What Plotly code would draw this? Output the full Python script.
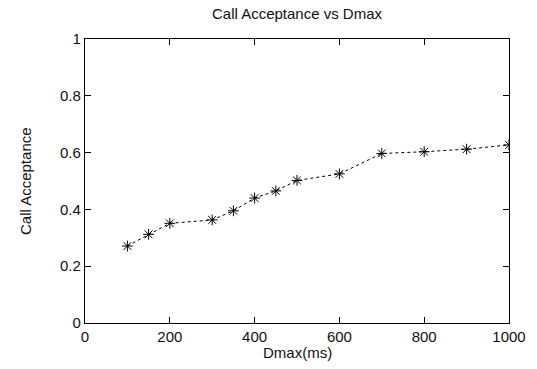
import plotly.graph_objects as go

dmax_ms = [100, 150, 200, 300, 350, 400, 450, 500, 600, 700, 800, 900, 1000]
call_acceptance = [0.271, 0.312, 0.351, 0.363, 0.395, 0.440, 0.465, 0.502, 0.525, 0.597, 0.603, 0.612, 0.627]
x_ticks = [0, 200, 400, 600, 800, 1000]
y_ticks = [0, 0.2, 0.4, 0.6, 0.8, 1]
y_tick_labels = ["0", "0.2", "0.4", "0.6", "0.8", "1"]

W, H = 537, 369
L, R, T, B = 85, 28, 39, 46
FONT = "Liberation Sans, Arial, Helvetica, sans-serif"
FS = 15

fig = go.Figure()
fig.add_trace(go.Scatter(
    x=dmax_ms, y=call_acceptance, mode="lines+markers",
    line=dict(color="black", width=1, dash="dot"),
    marker=dict(symbol="asterisk-open", size=9, color="black",
                line=dict(color="black", width=1)),
    showlegend=False,
))

axis_common = dict(
    showgrid=False, zeroline=False, showline=True, linecolor="black",
    linewidth=1.3, mirror="allticks", ticks="inside", ticklen=6,
    tickwidth=1, tickcolor="black",
    tickfont=dict(family=FONT, size=FS, color="#111"),
)
fig.update_xaxes(range=[0, 1000], tickvals=x_ticks, **axis_common)
fig.update_yaxes(range=[0, 1], tickvals=y_ticks, ticktext=y_tick_labels, **axis_common)

fig.update_layout(
    width=W, height=H, autosize=False,
    margin=dict(l=L, r=R, t=T, b=B),
    plot_bgcolor="white", paper_bgcolor="white",
    title=dict(text="Call Acceptance vs Dmax", x=0.5, xref="paper",
               y=1 - 14 / H, yref="container", yanchor="middle",
               font=dict(family=FONT, size=FS, color="#111")),
    annotations=[
        dict(text="Dmax(ms)", xref="paper", yref="paper", x=0.5, y=0,
             yshift=-(352 - (H - B)), showarrow=False, yanchor="middle",
             font=dict(family=FONT, size=FS, color="#111")),
        dict(text="Call Acceptance", xref="paper", yref="paper", x=0, y=0.5,
             xshift=-(L - 25), textangle=-90, showarrow=False, xanchor="center",
             font=dict(family=FONT, size=FS, color="#111")),
    ],
)

fig.write_html("out.html")
